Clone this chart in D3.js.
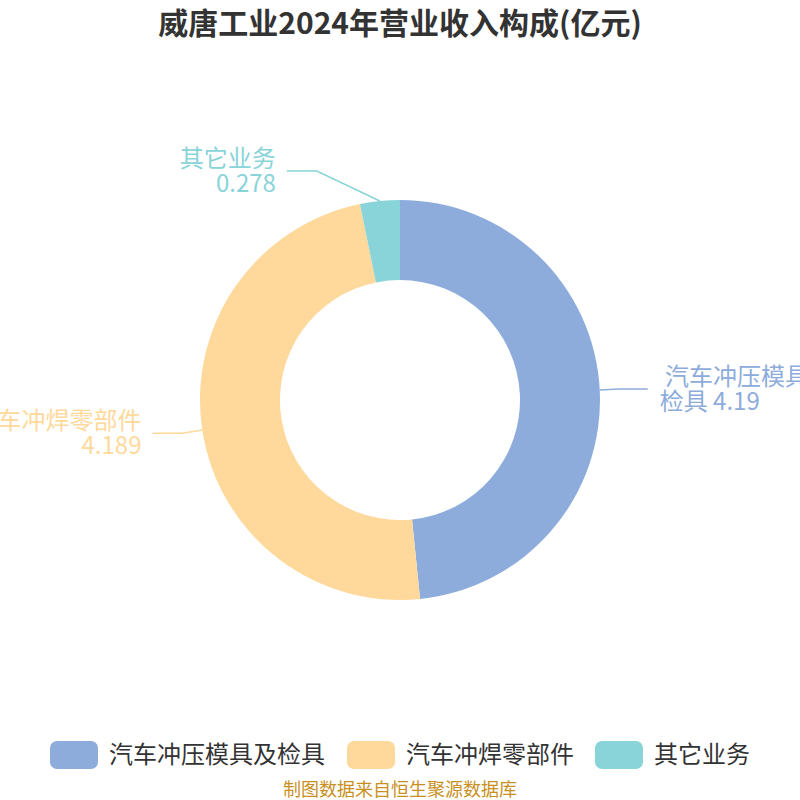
<!DOCTYPE html>
<html><head><meta charset="utf-8">
<script src="https://cdn.jsdelivr.net/npm/d3@7"></script>
<style>body{margin:0;background:#fff}svg{display:block;font-family:"Noto Sans CJK SC","Noto Sans",sans-serif}</style>
</head><body>
<script>
const title = "威唐工业2024年营业收入构成(亿元)";
const categories = ["汽车冲压模具及检具", "汽车冲焊零部件", "其它业务"];
const values = [4.19, 4.189, 0.278];
const valueLabels = ["4.19", "4.189", "0.278"];
const colors = ["#8eacdb", "#ffd99b", "#88d4d8"];
const source = "制图数据来自恒生聚源数据库";

const W = 800, H = 800, cx = 400, cy = 400, R = 200, r0 = 120;
const svg = d3.select("body").append("svg").attr("width", W).attr("height", H);

svg.append("text").attr("x", 400).attr("y", 34).attr("text-anchor", "middle")
  .attr("font-size", 30).attr("font-weight", "bold").attr("fill", "#333").text(title);

const data = categories.map((c, i) => ({name: c, value: values[i], label: valueLabels[i], color: colors[i]}));
const pie = d3.pie().sort(null).value(d => d.value);
const arcs = pie(data);
const arc = d3.arc().innerRadius(r0).outerRadius(R);
const g = svg.append("g").attr("transform", `translate(${cx},${cy})`);
g.selectAll("path").data(arcs).join("path").attr("d", arc).attr("fill", d => d.data.color);

// label layout (leader lines)
const layout = [
  {len1: 20, shift: [0, 0], lines: d => ["\u00a0汽车冲压模具及", "检具 " + d.label]},
  {len1: 20, shift: [0, 0], lines: d => [d.name, d.label]},
  {len1: 0, shift: [-63, -30], lines: d => [d.name, d.label]}
];
arcs.forEach((a, i) => {
  const m = (a.startAngle + a.endAngle) / 2;
  const L = layout[i];
  const p0 = [cx + R * Math.sin(m), cy - R * Math.cos(m)];
  let p1 = [cx + (R + L.len1) * Math.sin(m), cy - (R + L.len1) * Math.cos(m)];
  p1 = [p1[0] + L.shift[0], p1[1] + L.shift[1]];
  const right = Math.sin(m) > 0;
  const p2 = [p1[0] + (right ? 28 : -30), p1[1]];
  svg.append("path").attr("d", d3.line().curve(d3.curveLinear)([p0, p1, p2]))
    .attr("fill", "none").attr("stroke", a.data.color).attr("stroke-width", 1.5);
  const lines = L.lines(a.data);
  const t = svg.append("text").attr("font-size", 24).attr("fill", a.data.color)
    .attr("text-anchor", right ? "start" : "end");
  const tx = p2[0] + (right ? 12 : -11);
  lines.forEach((ln, k) => {
    t.append("tspan").attr("x", tx).attr("y", p2[1] - 12 + k * 25 + 8).text(ln);
  });
});

// legend
const legX = [50, 347, 595];
categories.forEach((c, i) => {
  svg.append("rect").attr("x", legX[i]).attr("y", 741).attr("width", 48).attr("height", 28)
    .attr("rx", 7).attr("fill", colors[i]);
  svg.append("text").attr("x", legX[i] + 59).attr("y", 763).attr("font-size", 24)
    .attr("fill", "#333").text(c);
});
svg.append("text").attr("x", 400).attr("y", 796).attr("text-anchor", "middle")
  .attr("font-size", 18).attr("fill", "#c8901e").text(source);
</script>
</body></html>
